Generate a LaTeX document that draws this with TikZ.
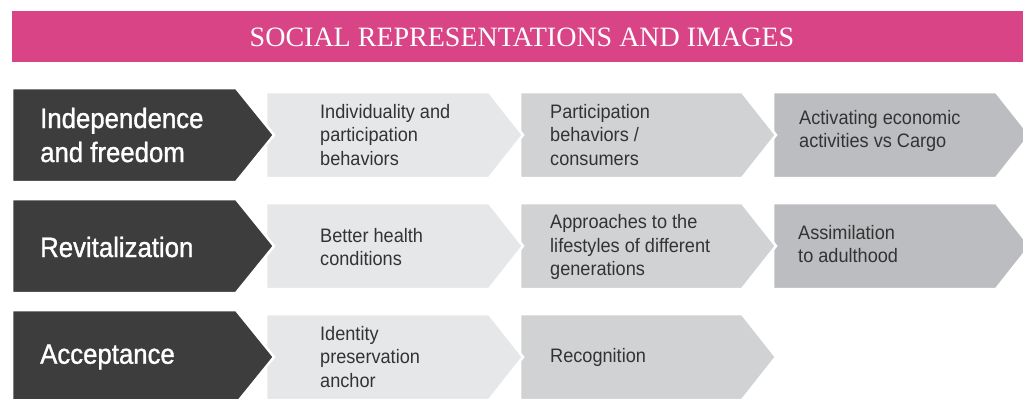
\documentclass[tikz,border=0pt]{standalone}
\usepackage{fontspec}
\newfontfamily\condfont[FakeStretch=0.93]{Liberation Sans}
\newfontfamily\headfont[FakeStretch=0.92,FakeBold=1.2]{Liberation Sans}
\newfontfamily\titlefont{Liberation Serif}
\definecolor{pinkbar}{HTML}{D94487}
\definecolor{darkbox}{HTML}{3D3D3D}
\definecolor{greyA}{HTML}{E6E7E8}
\definecolor{greyB}{HTML}{D1D2D4}
\definecolor{greyC}{HTML}{BCBDC0}
\definecolor{txtgrey}{HTML}{333333}
\newcommand\chev[6]{%
  \filldraw[fill=#6, draw=white, line width=2.5pt, line join=miter]
    (#1,#2) -- ++(#3,0) -- ++(#5,#4/2) -- ++(-#5,#4/2) -- ++(-#3,0) -- cycle;}
\tikzset{
  headtext/.style={anchor=west, align=left, inner sep=0pt, text=white,
    font=\headfont\fontsize{28}{34}\selectfont},
  itemtext/.style={anchor=west, align=left, inner sep=0pt, text=txtgrey,
    font=\condfont\fontsize{19.5}{23.5}\selectfont},
  titletext/.style={inner sep=0pt, text=white,
    font=\titlefont\fontsize{28}{30}\selectfont}
}
\begin{document}
\begin{tikzpicture}[x=1pt,y=-1pt]
\useasboundingbox (0,0) rectangle (1023,399);
\clip (0,0) rectangle (1023,399);
% banner
\fill[pinkbar] (12,11) rectangle (1030,62);
\node[titletext] (title) at (522,37.5) {SOCIAL REPRESENTATIONS AND IMAGES};
% row 1
\chev{773}{92}{223}{86}{34}{greyC}
\chev{520}{92}{222}{86}{34}{greyB}
\chev{266}{92}{223}{86}{34}{greyA}
\chev{12}{88}{224}{94}{38}{darkbox}
% row 2
\chev{773}{203}{223}{86}{34}{greyC}
\chev{520}{203}{222}{86}{34}{greyB}
\chev{266}{203}{223}{86}{34}{greyA}
\chev{12}{199}{224}{94}{38}{darkbox}
% row 3
\chev{520}{314}{222}{86}{34}{greyB}
\chev{266}{314}{223}{86}{34}{greyA}
\chev{12}{310}{224}{94}{38}{darkbox}
% texts row 1
\node[headtext] (h1) at (40,135) {Independence\\and freedom};
\node[itemtext] (a1) at (320,135) {Individuality and\\participation\\behaviors};
\node[itemtext] (b1) at (550,135) {Participation\\behaviors /\\consumers};
\node[itemtext] (c1) at (799,131) {Activating economic\\activities vs Cargo};
% texts row 2
\node[headtext] (h2) at (40,247) {Revitalization};
\node[itemtext] (a2) at (320,247) {Better health\\conditions};
\node[itemtext] (b2) at (550,247) {Approaches to the\\lifestyles of different\\generations};
\node[itemtext] (c2) at (798,244) {Assimilation\\to adulthood};
% texts row 3
\node[headtext] (h3) at (40,357) {Acceptance};
\node[itemtext] (a3) at (320,357) {Identity\\preservation\\anchor};
\node[itemtext] (b3) at (550,357) {Recognition};
\end{tikzpicture}
\end{document}
